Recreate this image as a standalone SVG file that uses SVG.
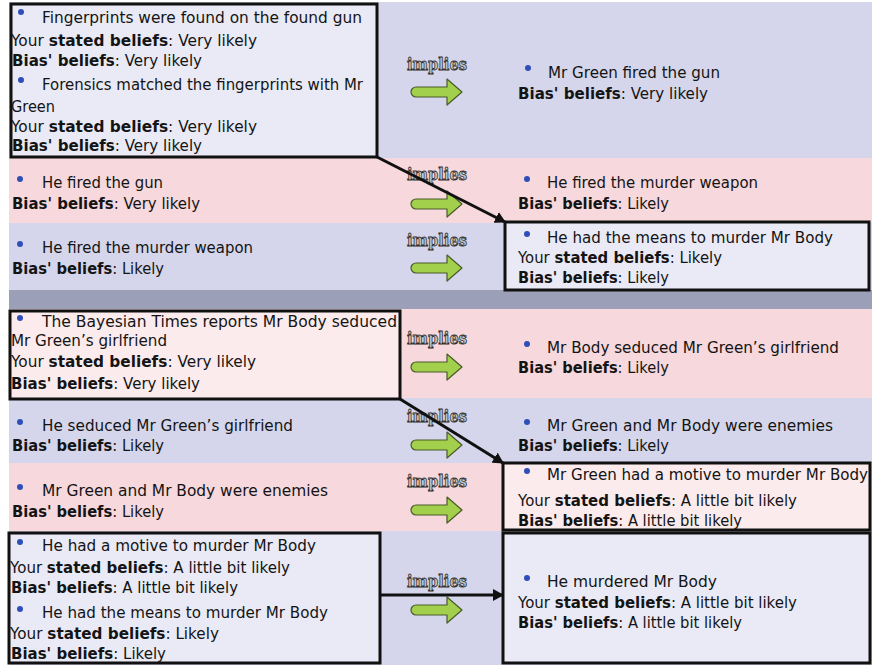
<svg xmlns="http://www.w3.org/2000/svg" width="872" height="665" viewBox="0 0 872 665">
<defs>
<style>
.t{font-family:"DejaVu Sans",Verdana,sans-serif;font-size:15px;fill:#141414}
.b{font-weight:bold}
.imp{font-family:"DejaVu Serif","Liberation Serif",serif;font-weight:bold;font-size:16px;fill:#c4c4c4;stroke:#2e2e2e;stroke-width:0.8}
.bul{fill:#2f4fb8}
.lav{fill:#d5d6eb}
.pink{fill:#f7d8dc}
.boxl{fill:#e9eaf6;stroke:#111;stroke-width:3}
.boxp{fill:#fcebec;stroke:#111;stroke-width:3}
.con{stroke:#111;stroke-width:3;fill:none;marker-end:url(#ah)}
.ga{fill:#a2d04c;stroke:#4a5a2a;stroke-width:1.2;stroke-linejoin:round}
</style>
<marker id="ah" markerUnits="userSpaceOnUse" markerWidth="12" markerHeight="12" refX="10" refY="6" orient="auto">
<path d="M0,0 L11,6 L0,12 z" fill="#111"/>
</marker>
<path id="garrow" d="M416,-5 H447 V-13 L462,0 L447,13 V5 H416 A5,5 0 0 1 416,-5 Z"/>
</defs>

<rect x="0" y="0" width="872" height="665" fill="#ffffff"/>
<!-- background bands -->
<rect class="lav" x="9" y="2" width="863" height="156"/>
<rect class="pink" x="9" y="158" width="863" height="65"/>
<rect class="lav" x="9" y="223" width="863" height="67"/>
<rect x="9" y="290" width="863" height="19" fill="#9c9fb8"/>
<rect class="pink" x="9" y="309" width="863" height="89"/>
<rect class="lav" x="9" y="398" width="863" height="65"/>
<rect class="pink" x="9" y="463" width="863" height="68"/>
<rect class="lav" x="9" y="531" width="863" height="134"/>

<!-- Row 1 -->
<g id="n-fingerprints">
<rect class="boxl" x="11" y="4" width="366" height="153"/>
<circle class="bul" cx="21" cy="12" r="3"/>
<text class="t" x="42" y="23" textLength="320" lengthAdjust="spacingAndGlyphs">Fingerprints were found on the found gun</text>
<text class="t" x="11" y="46" textLength="246" lengthAdjust="spacingAndGlyphs">Your <tspan class="b">stated beliefs</tspan>: Very likely</text>
<text class="t" x="12" y="66" textLength="190" lengthAdjust="spacingAndGlyphs"><tspan class="b">Bias' beliefs</tspan>: Very likely</text>
<circle class="bul" cx="21" cy="80" r="3"/>
<text class="t" x="42" y="90" textLength="321" lengthAdjust="spacingAndGlyphs">Forensics matched the fingerprints with Mr</text>
<text class="t" x="11" y="112" textLength="44" lengthAdjust="spacingAndGlyphs">Green</text>
<text class="t" x="11" y="132" textLength="246" lengthAdjust="spacingAndGlyphs">Your <tspan class="b">stated beliefs</tspan>: Very likely</text>
<text class="t" x="12" y="151" textLength="190" lengthAdjust="spacingAndGlyphs"><tspan class="b">Bias' beliefs</tspan>: Very likely</text>
</g>
<g id="n-green-fired-gun">
<circle class="bul" cx="528" cy="68" r="3"/>
<text class="t" x="548" y="78" textLength="172" lengthAdjust="spacingAndGlyphs">Mr Green fired the gun</text>
<text class="t" x="518" y="99" textLength="190" lengthAdjust="spacingAndGlyphs"><tspan class="b">Bias' beliefs</tspan>: Very likely</text>
</g>

<!-- Row 2 -->
<g id="n-fired-gun">
<circle class="bul" cx="20" cy="179" r="3"/>
<text class="t" x="42" y="188" textLength="121" lengthAdjust="spacingAndGlyphs">He fired the gun</text>
<text class="t" x="12" y="209" textLength="188" lengthAdjust="spacingAndGlyphs"><tspan class="b">Bias' beliefs</tspan>: Very likely</text>
</g>
<g id="n-fired-weapon-r">
<circle class="bul" cx="527" cy="179" r="3"/>
<text class="t" x="547" y="188" textLength="211" lengthAdjust="spacingAndGlyphs">He fired the murder weapon</text>
<text class="t" x="518" y="209" textLength="151" lengthAdjust="spacingAndGlyphs"><tspan class="b">Bias' beliefs</tspan>: Likely</text>
</g>

<!-- Row 3 -->
<g id="n-fired-weapon-l">
<circle class="bul" cx="20" cy="244" r="3"/>
<text class="t" x="42" y="253" textLength="211" lengthAdjust="spacingAndGlyphs">He fired the murder weapon</text>
<text class="t" x="12" y="274" textLength="152" lengthAdjust="spacingAndGlyphs"><tspan class="b">Bias' beliefs</tspan>: Likely</text>
</g>
<g id="n-means">
<rect class="boxl" x="505" y="222" width="364" height="68"/>
<circle class="bul" cx="527" cy="234" r="3"/>
<text class="t" x="547" y="243" textLength="286" lengthAdjust="spacingAndGlyphs">He had the means to murder Mr Body</text>
<text class="t" x="518" y="263" textLength="204" lengthAdjust="spacingAndGlyphs">Your <tspan class="b">stated beliefs</tspan>: Likely</text>
<text class="t" x="518" y="283" textLength="151" lengthAdjust="spacingAndGlyphs"><tspan class="b">Bias' beliefs</tspan>: Likely</text>
</g>

<!-- Row 4 -->
<g id="n-bayesian">
<rect class="boxp" x="10" y="311" width="390" height="88"/>
<circle class="bul" cx="20" cy="318" r="3"/>
<text class="t" x="42" y="327" textLength="355" lengthAdjust="spacingAndGlyphs">The Bayesian Times reports Mr Body seduced</text>
<text class="t" x="11" y="346" textLength="156" lengthAdjust="spacingAndGlyphs">Mr Green’s girlfriend</text>
<text class="t" x="11" y="367" textLength="245" lengthAdjust="spacingAndGlyphs">Your <tspan class="b">stated beliefs</tspan>: Very likely</text>
<text class="t" x="11" y="389" textLength="189" lengthAdjust="spacingAndGlyphs"><tspan class="b">Bias' beliefs</tspan>: Very likely</text>
</g>
<g id="n-body-seduced">
<circle class="bul" cx="527" cy="344" r="3"/>
<text class="t" x="547" y="353" textLength="292" lengthAdjust="spacingAndGlyphs">Mr Body seduced Mr Green’s girlfriend</text>
<text class="t" x="518" y="373" textLength="151" lengthAdjust="spacingAndGlyphs"><tspan class="b">Bias' beliefs</tspan>: Likely</text>
</g>

<!-- Row 5 -->
<g id="n-he-seduced">
<circle class="bul" cx="20" cy="422" r="3"/>
<text class="t" x="42" y="431" textLength="251" lengthAdjust="spacingAndGlyphs">He seduced Mr Green’s girlfriend</text>
<text class="t" x="12" y="451" textLength="152" lengthAdjust="spacingAndGlyphs"><tspan class="b">Bias' beliefs</tspan>: Likely</text>
</g>
<g id="n-enemies-r">
<circle class="bul" cx="527" cy="422" r="3"/>
<text class="t" x="547" y="431" textLength="286" lengthAdjust="spacingAndGlyphs">Mr Green and Mr Body were enemies</text>
<text class="t" x="518" y="451" textLength="151" lengthAdjust="spacingAndGlyphs"><tspan class="b">Bias' beliefs</tspan>: Likely</text>
</g>

<!-- Row 6 -->
<g id="n-enemies-l">
<circle class="bul" cx="20" cy="487" r="3"/>
<text class="t" x="42" y="496" textLength="286" lengthAdjust="spacingAndGlyphs">Mr Green and Mr Body were enemies</text>
<text class="t" x="12" y="517" textLength="152" lengthAdjust="spacingAndGlyphs"><tspan class="b">Bias' beliefs</tspan>: Likely</text>
</g>
<g id="n-motive">
<rect class="boxp" x="503" y="463" width="367" height="67"/>
<circle class="bul" cx="527" cy="471" r="3"/>
<text class="t" x="547" y="480" textLength="321" lengthAdjust="spacingAndGlyphs">Mr Green had a motive to murder Mr Body</text>
<text class="t" x="518" y="506" textLength="279" lengthAdjust="spacingAndGlyphs">Your <tspan class="b">stated beliefs</tspan>: A little bit likely</text>
<text class="t" x="518" y="526" textLength="224" lengthAdjust="spacingAndGlyphs"><tspan class="b">Bias' beliefs</tspan>: A little bit likely</text>
</g>

<!-- Row 7 -->
<g id="n-motive-means">
<rect class="boxl" x="9" y="533" width="371" height="130"/>
<circle class="bul" cx="20" cy="542" r="3"/>
<text class="t" x="42" y="551" textLength="274" lengthAdjust="spacingAndGlyphs">He had a motive to murder Mr Body</text>
<text class="t" x="10" y="573" textLength="280" lengthAdjust="spacingAndGlyphs">Your <tspan class="b">stated beliefs</tspan>: A little bit likely</text>
<text class="t" x="11" y="593" textLength="227" lengthAdjust="spacingAndGlyphs"><tspan class="b">Bias' beliefs</tspan>: A little bit likely</text>
<circle class="bul" cx="20" cy="609" r="3"/>
<text class="t" x="42" y="618" textLength="286" lengthAdjust="spacingAndGlyphs">He had the means to murder Mr Body</text>
<text class="t" x="10" y="639" textLength="209" lengthAdjust="spacingAndGlyphs">Your <tspan class="b">stated beliefs</tspan>: Likely</text>
<text class="t" x="11" y="659" textLength="155" lengthAdjust="spacingAndGlyphs"><tspan class="b">Bias' beliefs</tspan>: Likely</text>
</g>
<g id="n-murdered">
<rect class="boxl" x="503" y="533" width="367" height="130"/>
<circle class="bul" cx="527" cy="578" r="3"/>
<text class="t" x="547" y="587" textLength="170" lengthAdjust="spacingAndGlyphs">He murdered Mr Body</text>
<text class="t" x="518" y="608" textLength="279" lengthAdjust="spacingAndGlyphs">Your <tspan class="b">stated beliefs</tspan>: A little bit likely</text>
<text class="t" x="518" y="628" textLength="224" lengthAdjust="spacingAndGlyphs"><tspan class="b">Bias' beliefs</tspan>: A little bit likely</text>
</g>

<!-- implies labels and green arrows -->
<g id="implications">
<text class="imp" x="407" y="70" textLength="60" lengthAdjust="spacingAndGlyphs">implies</text>
<use href="#garrow" class="ga" transform="translate(0,92)"/>
<text class="imp" x="407" y="180" textLength="60" lengthAdjust="spacingAndGlyphs">implies</text>
<use href="#garrow" class="ga" transform="translate(0,204)"/>
<text class="imp" x="407" y="246" textLength="60" lengthAdjust="spacingAndGlyphs">implies</text>
<use href="#garrow" class="ga" transform="translate(0,268)"/>
<text class="imp" x="407" y="344" textLength="60" lengthAdjust="spacingAndGlyphs">implies</text>
<use href="#garrow" class="ga" transform="translate(0,367)"/>
<text class="imp" x="407" y="422" textLength="60" lengthAdjust="spacingAndGlyphs">implies</text>
<use href="#garrow" class="ga" transform="translate(0,445)"/>
<text class="imp" x="407" y="487" textLength="60" lengthAdjust="spacingAndGlyphs">implies</text>
<use href="#garrow" class="ga" transform="translate(0,510)"/>
<text class="imp" x="407" y="587" textLength="60" lengthAdjust="spacingAndGlyphs">implies</text>
<use href="#garrow" class="ga" transform="translate(0,610)"/>
</g>

<!-- connectors -->
<g id="connectors">
<line class="con" x1="377" y1="157" x2="505" y2="222"/>
<line class="con" x1="400" y1="399" x2="503" y2="463"/>
<line class="con" x1="380" y1="595" x2="503" y2="595"/>
</g>
</svg>
